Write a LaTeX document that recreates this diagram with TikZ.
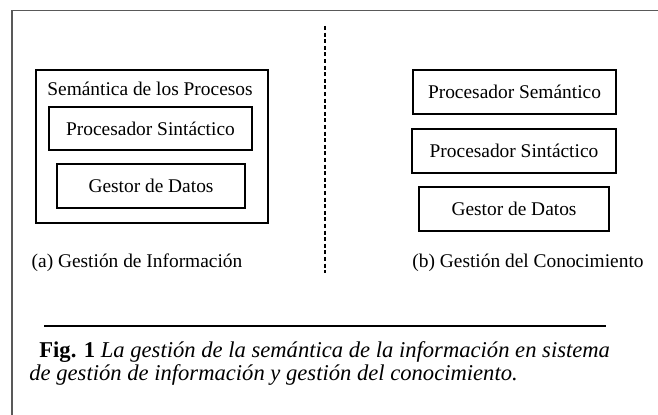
\documentclass[tikz,border=0pt]{standalone}
\usepackage{fontspec}
\setmainfont{Liberation Serif}
\begin{document}
\begin{tikzpicture}[x=0.5pt,y=-0.5pt,
  boxtxt/.style={font=\fontsize{9.7pt}{11pt}\selectfont},
  captxt/.style={font=\fontsize{11.3pt}{12pt}\selectfont,anchor=base west,inner sep=0pt}]
\useasboundingbox[fill=white] (0,0) rectangle (658,415);
% frame
\coordinate (ftl) at (12,10.7);
\coordinate (ftr) at (658,10.7);
\coordinate (fbl) at (12,415);
\draw[gray!70!black,line width=0.75pt] (ftr) -- (ftl) -- (fbl);
% left part
\node[draw,line width=0.6pt,minimum width=116pt,minimum height=76.5pt,inner sep=0pt] (outer) at (152,146.5) {};
\node[boxtxt] (sem) at (150,89) {Semántica de los Procesos};
\node[draw,line width=0.6pt,minimum width=101.5pt,minimum height=21.5pt,inner sep=0pt,boxtxt] (psl) at (150.5,128.5) {Procesador Sintáctico};
\node[draw,line width=0.6pt,minimum width=94pt,minimum height=22pt,inner sep=0pt,boxtxt] (gdl) at (151,186) {Gestor de Datos};
\node[boxtxt] (la) at (137,263) {(a) Gestión de Información};
% divider
\coordinate (dt) at (325,26);
\coordinate (db) at (325,273);
\draw[line width=1pt,dash pattern=on 2pt off 1.3pt] (dt) -- (db);
% right part
\node[draw,line width=0.6pt,minimum width=101.5pt,minimum height=22pt,inner sep=0pt,boxtxt] (psem) at (514.5,92) {Procesador Semántico};
\node[draw,line width=0.6pt,minimum width=102pt,minimum height=22pt,inner sep=0pt,boxtxt] (psr) at (514,151) {Procesador Sintáctico};
\node[draw,line width=0.6pt,minimum width=95pt,minimum height=22pt,inner sep=0pt,boxtxt] (gdr) at (514,209) {Gestor de Datos};
\node[boxtxt] (lb) at (528,263) {(b) Gestión del Conocimiento};
% caption
\coordinate (rl) at (44,326);
\coordinate (rr) at (606,326);
\draw[line width=1pt] (rl) -- (rr);
\node[captxt] (c1) at (39,358) {\textbf{Fig. 1} \textit{La gestión de la semántica de la información en sistema}};
\node[captxt] (c2) at (29,381) {\textit{de gestión de información y gestión del conocimiento.}};
\end{tikzpicture}
\end{document}
